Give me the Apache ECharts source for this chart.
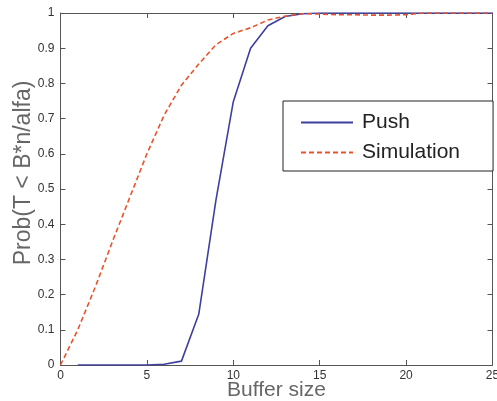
<!DOCTYPE html>
<html>
<head>
<meta charset="utf-8">
<script src="https://cdn.jsdelivr.net/npm/echarts@6/dist/echarts.min.js"></script>
<style>html,body{margin:0;padding:0;background:#fff}#c{width:497px;height:401px}</style>
</head>
<body>
<div id="c"></div>
<script>
const pushX = [1,2,3,4,5,6,7,8,9,10,11,12,13,14,15,16,17,18,19,20,21,22,23,24,25];
const pushY = [0,0,0,0,0,0.002,0.011,0.144,0.47,0.748,0.90,0.964,0.99,0.998,1,1,1,1,1,1,1,1,1,1,1];
const simX = [0,1,2,3,4,5,6,7,8,9,10,11,12,13,14,15,16,17,18,19,20,21,22,23,24,25];
const simY = [0,0.1,0.22,0.35,0.475,0.6,0.71,0.795,0.855,0.91,0.942,0.958,0.98,0.991,0.998,0.997,0.995,0.995,0.994,0.994,0.995,1,1,1,1,1];
const xTicks = [0,5,10,15,20,25];
const yTicks = [0,0.1,0.2,0.3,0.4,0.5,0.6,0.7,0.8,0.9,1];

const chart = echarts.init(document.getElementById('c'), null, {renderer:'canvas'});
const axisLineColor = '#555';
const labelFont = "'Liberation Sans Narrow', 'Liberation Sans', Arial, sans-serif";
const baseAxis = {
  type:'value',
  axisLine:{show:true, onZero:false, lineStyle:{color:axisLineColor, width:1}},
  axisTick:{show:true, inside:true, length:5, lineStyle:{color:axisLineColor}},
  splitLine:{show:false}
};
chart.setOption({
  animation:false,
  backgroundColor:'#fff',
  grid:{left:60.5, right:4.5, top:13, bottom:36, containLabel:false, outerBoundsMode:'none'},
  legend:{
    orient:'vertical', left:283, top:101,
    backgroundColor:'#fff',
    borderColor:'#222', borderWidth:1,
    padding:[11, 33, 8, 17],
    itemWidth:52, itemHeight:14, itemGap:9,
    itemStyle:{opacity:0},
    textStyle:{fontSize:21, color:'#222', fontFamily:"'Liberation Sans', Arial, sans-serif", padding:[0,0,0,4]},
    data:['Push','Simulation']
  },
  xAxis:[
    Object.assign({}, baseAxis, {
      min:0, max:25, interval:5, position:'bottom',
      axisLabel:{show:true, fontSize:12, color:'#333', margin:5, fontFamily:labelFont,
        formatter:v => xTicks.includes(v) ? String(v) : ''},
      name:'Buffer size', nameLocation:'middle', nameGap:15, nameMoveOverlap:false,
      nameTextStyle:{fontSize:21, color:'#666', fontFamily:"'Liberation Sans', Arial, sans-serif",
        verticalAlign:'top', backgroundColor:'#fff', padding:[0,2,0,2]}
    }),
    Object.assign({}, baseAxis, {min:0, max:25, interval:5, position:'top', axisLabel:{show:false}})
  ],
  yAxis:[
    Object.assign({}, baseAxis, {
      min:0, max:1, interval:0.1, position:'left',
      axisLabel:{show:true, fontSize:12, color:'#333', margin:6, fontFamily:labelFont,
        formatter:v => { const r = Math.round(v*10)/10; return yTicks.includes(r) ? String(r) : ''; }},
      name:'Prob(T < B*n/alfa)', nameLocation:'middle', nameGap:25, nameRotate:90, nameMoveOverlap:false,
      nameTextStyle:{fontSize:23, color:'#666', fontFamily:"'Liberation Sans', Arial, sans-serif", padding:[0,0,0,32]}
    }),
    Object.assign({}, baseAxis, {min:0, max:1, interval:0.1, position:'right', axisLabel:{show:false}})
  ],
  series:[
    {
      name:'Push', type:'line', symbol:'none', showSymbol:false, xAxisIndex:0, yAxisIndex:0,
      data: pushX.map((x,i)=>[x, pushY[i]]),
      lineStyle:{color:'#3f3fa0', width:1.6, type:'solid'},
      itemStyle:{color:'#3f3fa0'}, z:3
    },
    {
      name:'Simulation', type:'line', symbol:'none', showSymbol:false, xAxisIndex:0, yAxisIndex:0,
      data: simX.map((x,i)=>[x, simY[i]]),
      lineStyle:{color:'#e8532b', width:1.6, type:[5,3]},
      itemStyle:{color:'#e8532b'}, z:4
    }
  ]
});
</script>
</body>
</html>
